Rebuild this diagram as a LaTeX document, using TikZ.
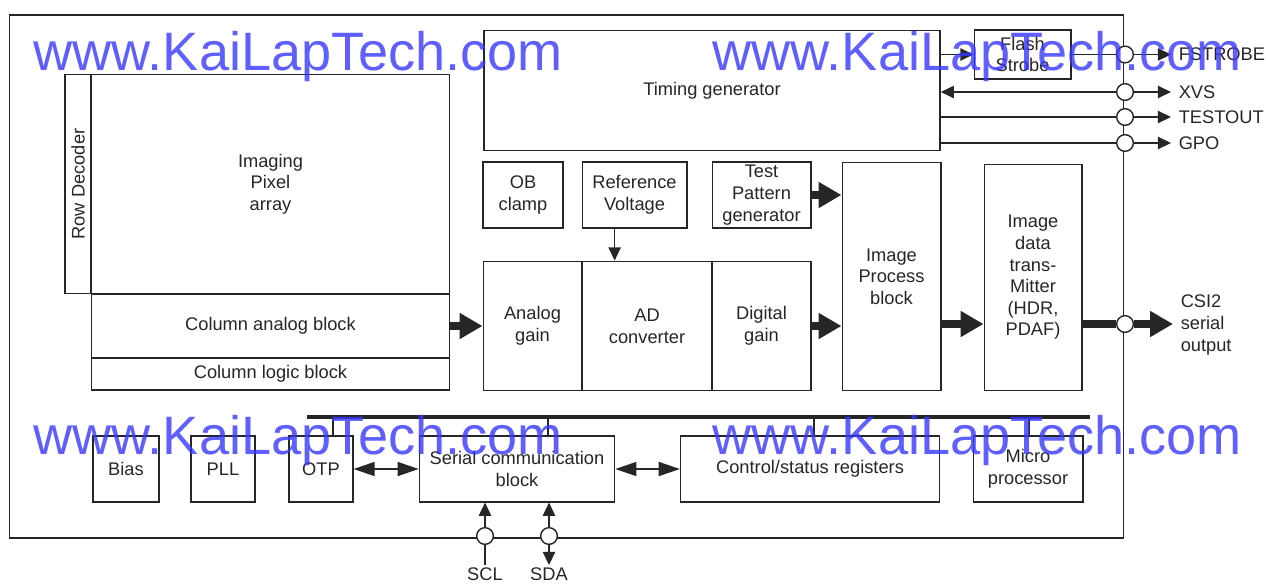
\documentclass[tikz,border=0pt]{standalone}
\usepackage{fontspec}
\usepackage{graphicx}
\usetikzlibrary{arrows.meta,positioning}
\newfontfamily\blkfont{Liberation Sans}
\newcommand\blocktext{\blkfont\fontsize{10.4}{12.3}\selectfont}
\newcommand\marktext{\blkfont\fontsize{30.8}{30.8}\selectfont}
\definecolor{markblue}{RGB}{55,55,255}
\tikzset{
	blk/.style={draw, inner sep=0pt, align=center, font=\blocktext},
	sz/.style 2 args={minimum width=#1*0.5669pt, minimum height=#2*0.5669pt},
	padring/.style={circle, draw, fill=white, minimum size=9.5pt, inner sep=0pt},
	pinlbl/.style={font=\blocktext, inner xsep=4pt, inner ysep=3pt, align=left},
	fat/.style={line width=4.5pt, -{Triangle[length=13pt,width=14pt]}},
	bidir/.style={{Triangle[length=12pt,width=8pt]}-{Triangle[length=12pt,width=8pt]}},
	wmark/.style={font=\marktext, text=markblue, text opacity=0.8, inner sep=0pt}
}

\begin{document}
\begin{tikzpicture}[x=0.02cm, y=-0.02cm, color=black!85, line width=0.8pt, >={Triangle[length=7.5pt,width=7pt]}]
			%%%%% START %%%%%
			\useasboundingbox (0,0) rectangle (1266,586);
			
			\node[blk, sz={1119}{525}] (chip) at (566.5,276.5) {};
			
			% sensor array
			\node[blk, sz={26}{220}] (rowdec) at (78,184) {\rotatebox{90}{Row Decoder}};
			\node[blk, sz={359}{220}] (pixarr) at (270.5,184) {Imaging\\Pixel\\array};
			\node[blk, sz={359}{64}] (colana) at (270.5,326) {Column analog block};
			\node[blk, sz={359}{32}] (collog) at (270.5,374) {Column logic block};
			
			% timing
			\node[blk, sz={458}{121}] (timing) at (712,90.5) {Timing generator};
			\node[blk, sz={97}{49}] (flash) at (1022.5,54.5) {Flash\\Strobe};
			
			% analog / digital chain
			\node[blk, sz={80}{66}] (obclamp) at (523,195) {OB\\clamp};
			\node[blk, sz={105}{66}] (refv) at (634.5,195) {Reference\\Voltage};
			\node[blk, sz={99}{66}] (tpg) at (761.5,195) {Test\\Pattern\\generator};
			\node[blk, sz={99}{130}] (anagain) at (532.5,326) {Analog\\gain};
			\node[blk, sz={130}{130}] (adc) at (647,326) {AD\\converter};
			\node[blk, sz={99}{130}] (diggain) at (761.5,326) {Digital\\gain};
			\node[blk, sz={99}{229}] (ipb) at (891.5,276.5) {Image\\Process\\block};
			\node[blk, sz={98}{227}] (idt) at (1033,277.5) {Image\\data\\trans-\\Mitter\\(HDR,\\PDAF)};
			
			% bottom row
			\node[blk, sz={66}{66}] (bias) at (126,469) {Bias};
			\node[blk, sz={64}{66}] (pll) at (223,469) {PLL};
			\node[blk, sz={64}{66}] (otp) at (321,469) {OTP};
			\node[blk, sz={196}{66}] (scb) at (517,469) {Serial communication\\block};
			\node[blk, sz={260}{66}] (csr) at (810,469) {Control/status registers};
			\node[blk, sz={110}{66}] (mpu) at (1028,469) {Micro\\processor};
			
			% pads
			\foreach \name/\y in {pfs/54.5, pxvs/92, ptest/117, pgpo/143, pcsi/324}
				\node[padring] (\name) at (1125,\y) {};
			\node[padring] (pscl) at (485,536) {};
			\node[padring] (psda) at (549,536) {};
			
			\node[pinlbl, anchor=west] (fstrobe) at (1171,54.5) {FSTROBE};
			\node[pinlbl, anchor=west] (xvs) at (1171,92) {XVS};
			\node[pinlbl, anchor=west] (testout) at (1171,117) {TESTOUT};
			\node[pinlbl, anchor=west] (gpo) at (1171,143) {GPO};
			\node[pinlbl, anchor=west] (csi) at (1173,325) {CSI2\\serial\\output};
			\node[pinlbl, inner ysep=1pt, anchor=north] (scl) at (485,565) {SCL};
			\node[pinlbl, inner ysep=1pt, anchor=north] (sda) at (549,565) {SDA};
			
			% timing outputs
			\draw[->] (timing.east |- flash) -- (flash);
			\draw (flash) -- (pfs);
			\draw[->] (pfs) -- (fstrobe);
			\draw[<-] (timing.east |- pxvs) -- (pxvs);
			\draw[->] (pxvs) -- (xvs);
			\draw (timing.east |- ptest) -- (ptest);
			\draw[->] (ptest) -- (testout);
			\draw (timing.east |- pgpo) -- (pgpo);
			\draw[->] (pgpo) -- (gpo);
			
			% data path
			\draw[->] ([xshift=-11.3pt]refv.south) -- ([xshift=-11.3pt]refv.south |- adc.north);
			\draw[fat] (colana) -- (anagain);
			\draw[fat] (tpg) -- (tpg -| ipb.west);
			\draw[fat] (diggain) -- (diggain -| ipb.west);
			\draw[fat] (ipb.east |- pcsi) -- (idt.west |- pcsi);
			\draw[line width=4.5pt] (idt.east |- pcsi) -- (pcsi);
			\draw[fat] (pcsi) -- (csi.west |- pcsi);
			
			% control bus
			\coordinate (busl) at (307,417);
			\coordinate (busr) at (1090,417);
			\draw[line width=2.2pt] (busl) -- (busr);
			\foreach \unit/\dx in {otp/12, scb/31, csr/4, mpu/1}
				\draw ([xshift=\dx*0.5669pt]\unit.north) -- ([xshift=\dx*0.5669pt]\unit.north |- busl);
			
			\draw[bidir] (otp) -- (scb);
			\draw[bidir] (scb) -- (csr);
			\draw[->] (pscl) -- (pscl |- scb.south);
			\draw (pscl) -- (scl);
			\draw[->] (psda) -- (psda |- scb.south);
			\draw[->] (psda) -- (sda);
			
			% watermark
			\foreach \x/\y [count=\i] in {33/70, 712/70, 33/454, 712/454}
				\node[wmark, anchor=base west] (wm\i) at (\x,\y) {www.KaiLapTech.com};
			
			%%%%% END %%%%%
\end{tikzpicture}
\end{document}
